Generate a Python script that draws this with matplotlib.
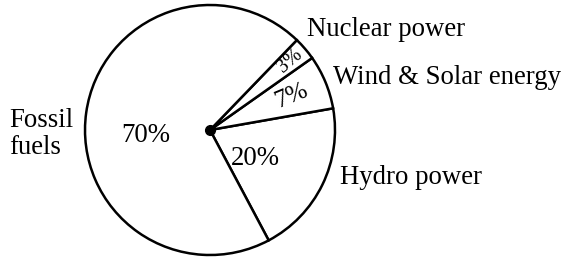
import numpy as np
import matplotlib
matplotlib.use("Agg")
from matplotlib import pyplot as plt

sources = ["Hydro power", "Wind & Solar energy", "Nuclear power", "Fossil\nfuels"]
shares = [20, 7, 3, 70]
pct_labels = ["20%", "7%", "3%", "70%"]

plt.rcParams["font.family"] = ["Liberation Serif", "DejaVu Serif"]
FS = 19.3

W, H = 564, 265
fig = plt.figure(figsize=(W / 100, H / 100), dpi=100)
ax = fig.add_axes([0, 0, 1, 1])

cx, cy, r = 210, H - 130, 125
wedges, _ = ax.pie(shares, center=(cx, cy), radius=r, startangle=-62,
                   counterclock=True, colors=["white"] * 4,
                   wedgeprops=dict(edgecolor="black", linewidth=1.8))
ax.set_xlim(0, W)
ax.set_ylim(0, H)
ax.set_aspect("equal")
ax.axis("off")

ax.plot(cx, cy, "o", color="black", markersize=7)

# percentage labels inside the slices (radius, angle shift, size)
inner_pos = [(53, -6, FS), (88, 0, FS - 1), (106, 0, FS - 5), (64, 12.5, FS)]
for w, lab, (rr, shift, fs) in zip(wedges, pct_labels, inner_pos):
    mid = (w.theta1 + w.theta2) / 2
    x = cx + rr * np.cos(np.radians(mid + shift))
    y = cy + rr * np.sin(np.radians(mid + shift))
    rot = mid if lab in ("3%", "7%") else 0
    ax.text(x, y, lab, ha="center", va="center", rotation=rot,
            rotation_mode="anchor", fontsize=fs)

# outside labels
ax.text(307, H - 30, sources[2], ha="left", va="center", fontsize=FS)
ax.text(333, H - 77, sources[1], ha="left", va="center", fontsize=FS)
ax.text(340, H - 178, sources[0], ha="left", va="center", fontsize=FS)
ax.text(9, H - 134, sources[3], ha="left", va="center", fontsize=FS,
        linespacing=1.15)

fig.savefig("out.png", dpi=100)
